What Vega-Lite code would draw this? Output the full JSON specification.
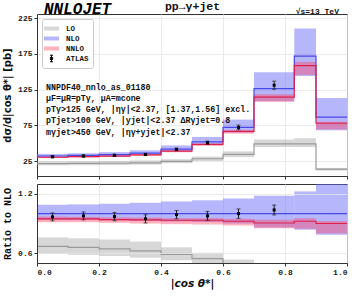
{
  "$schema": "https://vega.github.io/schema/vega-lite/v6.json",
  "background": "white",
  "padding": {"left": 2, "top": 0, "right": 12, "bottom": 2},
  "spacing": 3,
  "config": {
    "font": "Liberation Mono",
    "view": {"stroke": "#333333", "strokeWidth": 1},
    "axis": {
      "labelFont": "Liberation Mono", "labelFontWeight": "bold", "labelFontSize": 8, "labelColor": "#222222",
      "tickColor": "#333333", "domainColor": "#333333", "tickSize": 3, "labelPadding": 2,
      "gridColor": "#e4e4e4", "gridWidth": 0.8,
      "titleFont": "Liberation Mono", "titleFontWeight": "bold", "titleFontSize": 10.5, "titleColor": "#111111"
    }
  },
  "datasets": {
    "bins": [
      {"series": "LO", "xlo": 0, "xhi": 0.1, "lo": 19.0, "hi": 24.3, "rlo": 0.594, "rhi": 0.759},
      {"series": "LO", "xlo": 0.1, "xhi": 0.2, "lo": 19.1, "hi": 24.6, "rlo": 0.582, "rhi": 0.75},
      {"series": "LO", "xlo": 0.2, "xhi": 0.3, "lo": 19.4, "hi": 25.1, "rlo": 0.571, "rhi": 0.738},
      {"series": "LO", "xlo": 0.3, "xhi": 0.4, "lo": 19.9, "hi": 25.8, "rlo": 0.553, "rhi": 0.717},
      {"series": "LO", "xlo": 0.4, "xhi": 0.5, "lo": 22.0, "hi": 27.5, "rlo": 0.528, "rhi": 0.659},
      {"series": "LO", "xlo": 0.5, "xhi": 0.6, "lo": 25.0, "hi": 31.3, "rlo": 0.483, "rhi": 0.604},
      {"series": "LO", "xlo": 0.6, "xhi": 0.7, "lo": 30.6, "hi": 38.5, "rlo": 0.425, "rhi": 0.535},
      {"series": "LO", "xlo": 0.7, "xhi": 0.83, "lo": 44.5, "hi": 55.2, "rlo": 0.352, "rhi": 0.436},
      {"series": "LO", "xlo": 0.83, "xhi": 0.9, "lo": 44.5, "hi": 57.0, "rlo": 0.259, "rhi": 0.331},
      {"series": "LO", "xlo": 0.9, "xhi": 1.0, "lo": 11.5, "hi": 15.3, "rlo": 0.133, "rhi": 0.177},
      {"series": "NLO", "xlo": 0, "xhi": 0.1, "lo": 29.92, "hi": 34.88, "rlo": 0.935, "rhi": 1.09},
      {"series": "NLO", "xlo": 0.1, "xhi": 0.2, "lo": 30.67, "hi": 35.85, "rlo": 0.935, "rhi": 1.093},
      {"series": "NLO", "xlo": 0.2, "xhi": 0.3, "lo": 31.62, "hi": 37.4, "rlo": 0.93, "rhi": 1.1},
      {"series": "NLO", "xlo": 0.3, "xhi": 0.4, "lo": 33.3, "hi": 39.96, "rlo": 0.925, "rhi": 1.11},
      {"series": "NLO", "xlo": 0.4, "xhi": 0.5, "lo": 38.36, "hi": 46.83, "rlo": 0.92, "rhi": 1.123},
      {"series": "NLO", "xlo": 0.5, "xhi": 0.6, "lo": 47.4, "hi": 58.79, "rlo": 0.915, "rhi": 1.135},
      {"series": "NLO", "xlo": 0.6, "xhi": 0.7, "lo": 64.8, "hi": 83.02, "rlo": 0.9, "rhi": 1.153},
      {"series": "NLO", "xlo": 0.7, "xhi": 0.83, "lo": 108.8, "hi": 149.27, "rlo": 0.86, "rhi": 1.18},
      {"series": "NLO", "xlo": 0.83, "xhi": 0.9, "lo": 143.96, "hi": 210.7, "rlo": 0.837, "rhi": 1.225},
      {"series": "NLO", "xlo": 0.9, "xhi": 1.0, "lo": 68.15, "hi": 113.45, "rlo": 0.787, "rhi": 1.31},
      {"series": "NNLO", "xlo": 0, "xhi": 0.1, "lo": 29.22, "hi": 31.04, "rlo": 0.913, "rhi": 0.97},
      {"series": "NNLO", "xlo": 0.1, "xhi": 0.2, "lo": 29.95, "hi": 31.72, "rlo": 0.913, "rhi": 0.967},
      {"series": "NNLO", "xlo": 0.2, "xhi": 0.3, "lo": 30.84, "hi": 32.74, "rlo": 0.907, "rhi": 0.963},
      {"series": "NNLO", "xlo": 0.3, "xhi": 0.4, "lo": 32.4, "hi": 34.56, "rlo": 0.9, "rhi": 0.96},
      {"series": "NNLO", "xlo": 0.4, "xhi": 0.5, "lo": 37.24, "hi": 39.74, "rlo": 0.893, "rhi": 0.953},
      {"series": "NNLO", "xlo": 0.5, "xhi": 0.6, "lo": 46.1, "hi": 49.37, "rlo": 0.89, "rhi": 0.953},
      {"series": "NNLO", "xlo": 0.6, "xhi": 0.7, "lo": 63.36, "hi": 68.18, "rlo": 0.88, "rhi": 0.947},
      {"series": "NNLO", "xlo": 0.7, "xhi": 0.83, "lo": 107.9, "hi": 118.53, "rlo": 0.853, "rhi": 0.937},
      {"series": "NNLO", "xlo": 0.83, "xhi": 0.9, "lo": 145.68, "hi": 163.92, "rlo": 0.847, "rhi": 0.953},
      {"series": "NNLO", "xlo": 0.9, "xhi": 1.0, "lo": 69.28, "hi": 80.1, "rlo": 0.8, "rhi": 0.925}
    ],
    "steps": [
      {"series": "LO", "x": 0, "c": 21.4, "rc": 0.669},
      {"series": "LO", "x": 0.1, "c": 21.6, "rc": 0.659},
      {"series": "LO", "x": 0.2, "c": 21.9, "rc": 0.644},
      {"series": "LO", "x": 0.3, "c": 22.4, "rc": 0.622},
      {"series": "LO", "x": 0.4, "c": 24.5, "rc": 0.588},
      {"series": "LO", "x": 0.5, "c": 28.2, "rc": 0.544},
      {"series": "LO", "x": 0.6, "c": 34.3, "rc": 0.476},
      {"series": "LO", "x": 0.7, "c": 49.0, "rc": 0.387},
      {"series": "LO", "x": 0.83, "c": 49.0, "rc": 0.285},
      {"series": "LO", "x": 0.9, "c": 13.5, "rc": 0.156},
      {"series": "LO", "x": 1.0, "c": 13.5, "rc": 0.156},
      {"series": "NLO", "x": 0, "c": 32.0, "rc": 1},
      {"series": "NLO", "x": 0.1, "c": 32.8, "rc": 1},
      {"series": "NLO", "x": 0.2, "c": 34.0, "rc": 1},
      {"series": "NLO", "x": 0.3, "c": 36.0, "rc": 1},
      {"series": "NLO", "x": 0.4, "c": 41.7, "rc": 1},
      {"series": "NLO", "x": 0.5, "c": 51.8, "rc": 1},
      {"series": "NLO", "x": 0.6, "c": 72.0, "rc": 1},
      {"series": "NLO", "x": 0.7, "c": 126.5, "rc": 1},
      {"series": "NLO", "x": 0.83, "c": 172.0, "rc": 1},
      {"series": "NLO", "x": 0.9, "c": 86.6, "rc": 1},
      {"series": "NLO", "x": 1.0, "c": 86.6, "rc": 1},
      {"series": "NNLO", "x": 0, "c": 30.3, "rc": 0.947},
      {"series": "NNLO", "x": 0.1, "c": 31.06, "rc": 0.947},
      {"series": "NNLO", "x": 0.2, "c": 31.96, "rc": 0.94},
      {"series": "NNLO", "x": 0.3, "c": 33.73, "rc": 0.937},
      {"series": "NNLO", "x": 0.4, "c": 38.91, "rc": 0.933},
      {"series": "NNLO", "x": 0.5, "c": 48.33, "rc": 0.933},
      {"series": "NNLO", "x": 0.6, "c": 66.46, "rc": 0.923},
      {"series": "NNLO", "x": 0.7, "c": 114.48, "rc": 0.905},
      {"series": "NNLO", "x": 0.83, "c": 158.76, "rc": 0.923},
      {"series": "NNLO", "x": 0.9, "c": 77.94, "rc": 0.9},
      {"series": "NNLO", "x": 1.0, "c": 77.94, "rc": 0.9}
    ],
    "atlas": [
      {"x": 0.05, "v": 30.9, "lo": 29.6, "hi": 32.2, "r": 0.967, "rlo": 0.927, "rhi": 1.007},
      {"x": 0.15, "v": 32.0, "lo": 30.7, "hi": 33.3, "r": 0.977, "rlo": 0.937, "rhi": 1.017},
      {"x": 0.25, "v": 33.0, "lo": 31.6, "hi": 34.4, "r": 0.97, "rlo": 0.928, "rhi": 1.012},
      {"x": 0.35, "v": 34.1, "lo": 32.6, "hi": 35.6, "r": 0.947, "rlo": 0.905, "rhi": 0.989},
      {"x": 0.45, "v": 41.3, "lo": 39.6, "hi": 43.0, "r": 0.99, "rlo": 0.948, "rhi": 1.032},
      {"x": 0.55, "v": 50.6, "lo": 48.3, "hi": 52.9, "r": 0.977, "rlo": 0.932, "rhi": 1.022},
      {"x": 0.65, "v": 72.0, "lo": 68.6, "hi": 75.4, "r": 1.0, "rlo": 0.952, "rhi": 1.048},
      {"x": 0.765, "v": 131.2, "lo": 125.5, "hi": 136.9, "r": 1.037, "rlo": 0.987, "rhi": 1.087}
    ]
  },
  "resolve": {"scale": {"color": "independent", "stroke": "independent"}, "legend": {"color": "independent", "stroke": "independent"}},
  "vconcat": [
    {
      "width": 310,
      "height": 162,
      "layer": [
        {
          "data": {"name": "bins"},
          "mark": {"type": "rect"},
          "encoding": {
            "x": {"field": "xlo", "type": "quantitative", "scale": {"domain": [0, 1], "nice": false},
                  "axis": {"values": [0, 0.2, 0.4, 0.6, 0.8, 1.0], "labels": false, "title": null, "grid": true}},
            "x2": {"field": "xhi"},
            "y": {"field": "lo", "type": "quantitative", "scale": {"domain": [4, 231], "nice": false, "zero": false},
                  "axis": {"values": [25, 50, 75, 100, 125, 150, 175, 200, 225], "grid": true, "title": "dσ/d|cos θ*| [pb]", "titleFont": "DejaVu Sans", "titleFontSize": 10, "titlePadding": 5}},
            "y2": {"field": "hi"},
            "color": {
              "field": "series", "type": "nominal",
              "scale": {"domain": ["LO", "NLO", "NNLO", "ATLAS"], "range": ["rgba(160,160,160,0.42)", "rgba(100,100,250,0.47)", "rgba(255,60,90,0.4)", "#000000"]},
              "legend": {
                "title": null, "orient": "top-left", "offset": 5, "padding": 4,
                "fillColor": "white", "strokeColor": "#cccccc", "cornerRadius": 2,
                "labelFont": "Liberation Mono", "labelFontWeight": "bold", "labelFontSize": 7.5, "labelColor": "#111111",
                "symbolSize": 100, "rowPadding": 0, "labelOffset": 9,
                "symbolType": "M-1.5,-0.4H1.5V0.4H-1.5Z", "symbolStrokeWidth": 0,
                "encode": {
                  "symbols": {
                    "update": {
                      "shape": {"signal": "datum.label === 'ATLAS' ? 'M0,-0.65V0.65M-0.3,-0.65H0.3M-0.3,0.65H0.3M-0.22,-0.22H0.22V0.22H-0.22Z' : 'M-1.5,-0.4H1.5V0.4H-1.5Z'"},
                      "stroke": {"signal": "datum.label === 'ATLAS' ? '#000000' : 'transparent'"},
                      "strokeWidth": {"value": 1}
                    }
                  }
                }
              }
            }
          }
        },
        {
          "data": {"name": "steps"},
          "mark": {"type": "line", "interpolate": "step-after", "strokeWidth": 1.2},
          "encoding": {
            "x": {"field": "x", "type": "quantitative"},
            "y": {"field": "c", "type": "quantitative"},
            "stroke": {"field": "series", "type": "nominal",
                       "scale": {"domain": ["LO", "NLO", "NNLO"], "range": ["#9a9a9a", "#4848e8", "#e0204a"]}, "legend": null}
          }
        },
        {
          "data": {"name": "atlas"},
          "mark": {"type": "rule", "color": "#222222", "strokeWidth": 1},
          "encoding": {"x": {"field": "x", "type": "quantitative"}, "y": {"field": "lo", "type": "quantitative"}, "y2": {"field": "hi"}}
        },
        {
          "data": {"name": "atlas"},
          "mark": {"type": "tick", "orient": "horizontal", "color": "#222222", "size": 4, "thickness": 1},
          "encoding": {"x": {"field": "x", "type": "quantitative"}, "y": {"field": "lo", "type": "quantitative"}}
        },
        {
          "data": {"name": "atlas"},
          "mark": {"type": "tick", "orient": "horizontal", "color": "#222222", "size": 4, "thickness": 1},
          "encoding": {"x": {"field": "x", "type": "quantitative"}, "y": {"field": "hi", "type": "quantitative"}}
        },
        {
          "data": {"name": "atlas"},
          "mark": {"type": "square", "color": "#000000", "size": 9, "opacity": 1, "filled": true},
          "encoding": {"x": {"field": "x", "type": "quantitative"}, "y": {"field": "v", "type": "quantitative"}}
        },
        {
          "data": {"values": [
            {"label": "NNPDF40_nnlo_as_01180", "x": 0.029, "y": 124.5},
            {"label": "μF=μR=pTγ, μA=mcone", "x": 0.029, "y": 109.1},
            {"label": "pTγ>125 GeV, |ηγ|<2.37, [1.37,1.56] excl.", "x": 0.029, "y": 93.7},
            {"label": "pTjet>100 GeV, |yjet|<2.37 ΔRγjet=0.8", "x": 0.029, "y": 77.6},
            {"label": "mγjet>450 GeV,  |ηγ+yjet|<2.37", "x": 0.029, "y": 61.5}
          ]},
          "mark": {"type": "text", "align": "left", "baseline": "alphabetic", "font": "Liberation Mono", "fontWeight": "bold", "fontSize": 8.3, "color": "#111111"},
          "encoding": {"x": {"field": "x", "type": "quantitative"}, "y": {"field": "y", "type": "quantitative"}, "text": {"field": "label"}}
        },
        {
          "data": {"values": [{"label": "NNLOJET", "x": 0.0226, "y": 231.2}]},
          "mark": {"type": "text", "align": "left", "baseline": "alphabetic", "font": "Liberation Mono", "fontWeight": "bold", "fontStyle": "italic", "fontSize": 16, "color": "#000000"},
          "encoding": {"x": {"field": "x", "type": "quantitative"}, "y": {"field": "y", "type": "quantitative"}, "text": {"field": "label"}}
        },
        {
          "data": {"values": [{"label": "pp→γ+jet", "x": 0.5016, "y": 236.0}]},
          "mark": {"type": "text", "align": "center", "baseline": "alphabetic", "font": "Liberation Mono", "fontWeight": "bold", "fontSize": 11.5, "color": "#111111"},
          "encoding": {"x": {"field": "x", "type": "quantitative"}, "y": {"field": "y", "type": "quantitative"}, "text": {"field": "label"}}
        },
        {
          "data": {"values": [{"label": "√s=13 TeV", "x": 0.974, "y": 231.6}]},
          "mark": {"type": "text", "align": "right", "baseline": "alphabetic", "font": "Liberation Mono", "fontWeight": "bold", "fontSize": 8, "color": "#111111"},
          "encoding": {"x": {"field": "x", "type": "quantitative"}, "y": {"field": "y", "type": "quantitative"}, "text": {"field": "label"}}
        }
      ]
    },
    {
      "width": 310,
      "height": 79,
      "layer": [
        {
          "data": {"name": "bins"},
          "mark": {"type": "rect", "clip": true},
          "encoding": {
            "x": {"field": "xlo", "type": "quantitative", "scale": {"domain": [0, 1], "nice": false},
                  "axis": {"values": [0, 0.2, 0.4, 0.6, 0.8, 1.0], "format": ".1f", "grid": true, "title": "|cos θ*|", "titleFont": "DejaVu Sans", "titleFontStyle": "italic", "titleFontSize": 10.5, "titlePadding": 2}},
            "x2": {"field": "xhi"},
            "y": {"field": "rlo", "type": "quantitative", "scale": {"domain": [0.5, 1.3], "nice": false, "zero": false},
                  "axis": {"values": [0.6, 0.8, 1.0, 1.2], "format": ".1f", "zindex": 1, "grid": true, "title": "Ratio to NLO", "titleFontSize": 10, "titlePadding": 5}},
            "y2": {"field": "rhi"},
            "color": {"field": "series", "type": "nominal",
                      "scale": {"domain": ["LO", "NLO", "NNLO"], "range": ["rgba(160,160,160,0.42)", "rgba(100,100,250,0.47)", "rgba(255,60,90,0.4)"]}, "legend": null}
          }
        },
        {
          "data": {"name": "steps"},
          "mark": {"type": "line", "interpolate": "step-after", "strokeWidth": 1.2, "clip": true},
          "encoding": {
            "x": {"field": "x", "type": "quantitative"},
            "y": {"field": "rc", "type": "quantitative"},
            "stroke": {"field": "series", "type": "nominal",
                       "scale": {"domain": ["LO", "NLO", "NNLO"], "range": ["#9a9a9a", "#4848e8", "#e0204a"]}, "legend": null}
          }
        },
        {
          "data": {"name": "atlas"},
          "mark": {"type": "rule", "color": "#222222", "strokeWidth": 1},
          "encoding": {"x": {"field": "x", "type": "quantitative"}, "y": {"field": "rlo", "type": "quantitative"}, "y2": {"field": "rhi"}}
        },
        {
          "data": {"name": "atlas"},
          "mark": {"type": "tick", "orient": "horizontal", "color": "#222222", "size": 4, "thickness": 1},
          "encoding": {"x": {"field": "x", "type": "quantitative"}, "y": {"field": "rlo", "type": "quantitative"}}
        },
        {
          "data": {"name": "atlas"},
          "mark": {"type": "tick", "orient": "horizontal", "color": "#222222", "size": 4, "thickness": 1},
          "encoding": {"x": {"field": "x", "type": "quantitative"}, "y": {"field": "rhi", "type": "quantitative"}}
        },
        {
          "data": {"name": "atlas"},
          "mark": {"type": "square", "color": "#000000", "size": 9, "opacity": 1, "filled": true},
          "encoding": {"x": {"field": "x", "type": "quantitative"}, "y": {"field": "r", "type": "quantitative"}}
        }
      ]
    }
  ]
}
